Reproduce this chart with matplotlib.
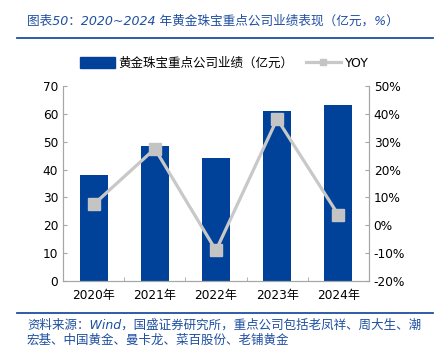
import matplotlib.pyplot as plt
import numpy as np
from matplotlib.lines import Line2D
from matplotlib.patches import Patch

plt.rcParams['font.family'] = ['DejaVu Sans', 'Noto Sans CJK SC']

# data
years = ['2020年', '2021年', '2022年', '2023年', '2024年']
revenue = [38.2, 48.6, 44.3, 61.0, 63.3]      # 亿元
yoy = [7.5, 27.5, -9.0, 38.2, 3.8]          # %

left_ticks = [0, 10, 20, 30, 40, 50, 60, 70]
right_ticks = [-20, -10, 0, 10, 20, 30, 40, 50]

bar_color = '#00419A'
line_color = '#C8C8C8'
text_blue = '#1F4FA0'
spine_gray = '#A6A6A6'

fig = plt.figure(figsize=(4.35, 3.47), dpi=100)
ax = fig.add_axes([0.145, 0.19, 0.703, 0.562])
x = np.arange(len(years))
ax.bar(x, revenue, width=0.46, color=bar_color, zorder=2)
ax.set_xlim(-0.5, len(years) - 0.5)
ax.set_ylim(0, 70)
ax.set_yticks(left_ticks)
ax.set_xticks(x)
ax.set_xticklabels(years)
ax.set_xticks(np.arange(len(years) + 1) - 0.5, minor=True)
ax.tick_params(axis='x', which='major', length=0, labelsize=8.7, pad=6)
ax.tick_params(axis='x', which='minor', direction='in', length=3, color=spine_gray)
ax.tick_params(axis='y', direction='in', length=3, color=spine_gray, labelsize=8.7)

ax2 = ax.twinx()
ax2.plot(x, yoy, color=line_color, linewidth=2.3, marker='s', markersize=9,
         markerfacecolor='#C4C4C4', markeredgecolor='#C4C4C4', zorder=3)
ax2.set_ylim(-20, 50)
ax2.set_yticks(right_ticks)
ax2.set_yticklabels([f'{t}%' for t in right_ticks])
ax2.tick_params(axis='y', direction='in', length=3, color=spine_gray, labelsize=8.7)

for a in (ax, ax2):
    a.spines['top'].set_visible(False)
    for s in ('left', 'right', 'bottom'):
        a.spines[s].set_color(spine_gray)
        a.spines[s].set_linewidth(0.8)

handles = [Patch(facecolor=bar_color, edgecolor=bar_color),
           Line2D([0], [0], color=line_color, linewidth=2.3, marker='s',
                  markersize=4, markerfacecolor='#C4C4C4', markeredgecolor='#C4C4C4')]
fig.legend(handles, ['黄金珠宝重点公司业绩（亿元）', 'YOY'], loc='center',
           bbox_to_anchor=(0.515, 0.818), ncol=2, frameon=False, fontsize=9.0,
           handlelength=2.8, handleheight=0.9, columnspacing=1.0, handletextpad=0.3)

fig.text(0.062, 0.94, '图表50：2020~2024 年黄金珠宝重点公司业绩表现（亿元，%）',
         color=text_blue, fontsize=9.1, style='italic', va='center')
fig.add_artist(Line2D([0.04, 0.995], [0.89, 0.89], color=text_blue, linewidth=1.3))
fig.add_artist(Line2D([0.04, 0.995], [0.098, 0.098], color=text_blue, linewidth=1.3))
fig.text(0.062, 0.062, '资料来源：Wind，国盛证券研究所，重点公司包括老凤祥、周大生、潮',
         color=text_blue, fontsize=9, style='italic', va='center')
fig.text(0.062, 0.018, '宏基、中国黄金、曼卡龙、菜百股份、老铺黄金',
         color=text_blue, fontsize=9, style='italic', va='center')

fig.savefig('out.png', dpi=100)
